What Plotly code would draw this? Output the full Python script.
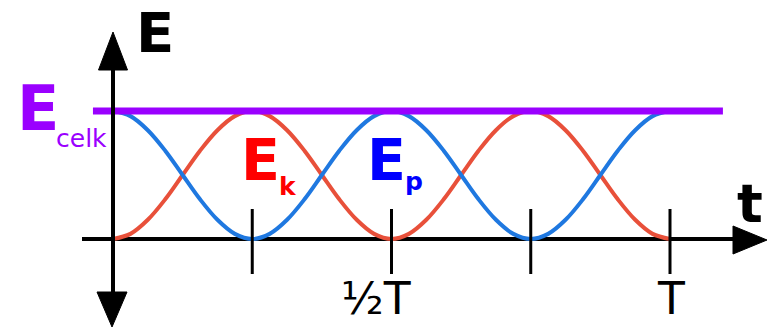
import plotly.graph_objects as go

# ---------------- data ----------------
# time in units of the period T, sampled every T/32
t_values = [i / 32 for i in range(33)]
# kinetic energy (fraction of total)
ek_values = [0.00, 0.04, 0.15, 0.31, 0.50, 0.69, 0.85, 0.96, 1.00, 0.96, 0.85, 0.69, 0.50, 0.31, 0.15, 0.04,
             0.00, 0.04, 0.15, 0.31, 0.50, 0.69, 0.85, 0.96, 1.00, 0.96, 0.85, 0.69, 0.50, 0.31, 0.15, 0.04, 0.00]
# potential energy (fraction of total)
ep_values = [1.00, 0.96, 0.85, 0.69, 0.50, 0.31, 0.15, 0.04, 0.00, 0.04, 0.15, 0.31, 0.50, 0.69, 0.85, 0.96,
             1.00, 0.96, 0.85, 0.69, 0.50, 0.31, 0.15, 0.04, 0.00, 0.04, 0.15, 0.31, 0.50, 0.69, 0.85, 0.96, 1.00]
# total energy line
ecelk_t = [-0.036, 1.095]
ecelk_values = [1.0, 1.0]
# tick positions and labels on the time axis
tick_t = [0.25, 0.5, 0.75, 1.0]
tick_labels = ["", "½T", "", "T"]

# ---------------- layout helpers (pixel -> data) ----------------
W, H = 771, 328
X0PX, XSCALE = 113, 557.0
Y0PX, YSCALE = 239, 128.0


def dx(px):
    return (px - X0PX) / XSCALE


def dy(py):
    return (Y0PX - py) / YSCALE


RED = "#E8503A"
BLUE = "#1F78E0"
PURPLE = "#9A00FF"
FONT = "DejaVu Sans"

fig = go.Figure()

fig.add_trace(go.Scatter(x=t_values, y=ek_values, mode="lines",
                         line=dict(color=RED, width=4, shape="spline"), hoverinfo="skip"))
fig.add_trace(go.Scatter(x=t_values, y=ep_values, mode="lines",
                         line=dict(color=BLUE, width=4, shape="spline"), hoverinfo="skip"))
fig.add_trace(go.Scatter(x=ecelk_t, y=ecelk_values, mode="lines",
                         line=dict(color=PURPLE, width=7), hoverinfo="skip"))

shapes = []
# horizontal axis line (below curves)
shapes.append(dict(type="line", xref="x", yref="y", x0=dx(82), x1=dx(738), y0=0, y1=0,
                   line=dict(color="black", width=4), layer="below"))
# horizontal arrow head
shapes.append(dict(type="path", xref="x", yref="y",
                   path=f"M {dx(733)} {dy(240-14)} L {dx(767)} {dy(240)} L {dx(733)} {dy(240+14)} Z",
                   fillcolor="black", line=dict(color="black", width=1), layer="above"))
# vertical axis line
shapes.append(dict(type="line", xref="x", yref="y", x0=0, x1=0, y0=dy(66), y1=dy(296),
                   line=dict(color="black", width=4), layer="above"))
# top arrow head
shapes.append(dict(type="path", xref="x", yref="y",
                   path=f"M {dx(98.5)} {dy(70)} L {dx(113)} {dy(32)} L {dx(127.5)} {dy(70)} Z",
                   fillcolor="black", line=dict(color="black", width=1), layer="above"))
# bottom arrow head
shapes.append(dict(type="path", xref="x", yref="y",
                   path=f"M {dx(97)} {dy(292)} L {dx(112)} {dy(327)} L {dx(127)} {dy(292)} Z",
                   fillcolor="black", line=dict(color="black", width=1), layer="above"))
# tick marks
for tt in tick_t:
    shapes.append(dict(type="line", xref="x", yref="y", x0=tt, x1=tt, y0=dy(209), y1=dy(274),
                       line=dict(color="black", width=3), layer="above"))

annotations = []


def label(text, xpx, ypx, size, color, bold=True):
    annotations.append(dict(
        text=f"<b>{text}</b>" if bold else text,
        x=dx(xpx), y=dy(ypx), xref="x", yref="y",
        xanchor="center", yanchor="middle", showarrow=False, borderpad=0,
        font=dict(family=FONT, size=size, color=color)))


label("E", 155, 32, 56, "black")
label("E", 38, 108, 62, PURPLE)
label("celk", 81, 138, 25, PURPLE, bold=False)
label("E", 260, 160, 57, "#FF0000")
label("k", 288, 186, 25, "#FF0000")
label("E", 386, 160, 57, "#0000FF")
label("p", 414, 181, 25, "#0000FF")
label("t", 750, 203, 54, "black")
label_offsets = {"½T": -16, "T": 1}
for tt, tl in zip(tick_t, tick_labels):
    if tl:
        label(tl, X0PX + tt * XSCALE + label_offsets[tl], 298, 44, "black", bold=False)

fig.update_layout(
    width=W, height=H,
    margin=dict(l=0, r=0, t=0, b=0),
    paper_bgcolor="white", plot_bgcolor="white",
    showlegend=False,
    shapes=shapes, annotations=annotations,
    xaxis=dict(range=[dx(0), dx(W)], visible=False, showgrid=False, zeroline=False, fixedrange=True),
    yaxis=dict(range=[dy(H), dy(0)], visible=False, showgrid=False, zeroline=False, fixedrange=True),
)

fig.write_html("out.html", config={"displayModeBar": False},
               post_script="document.body.style.margin='0';document.body.style.overflow='hidden';")
